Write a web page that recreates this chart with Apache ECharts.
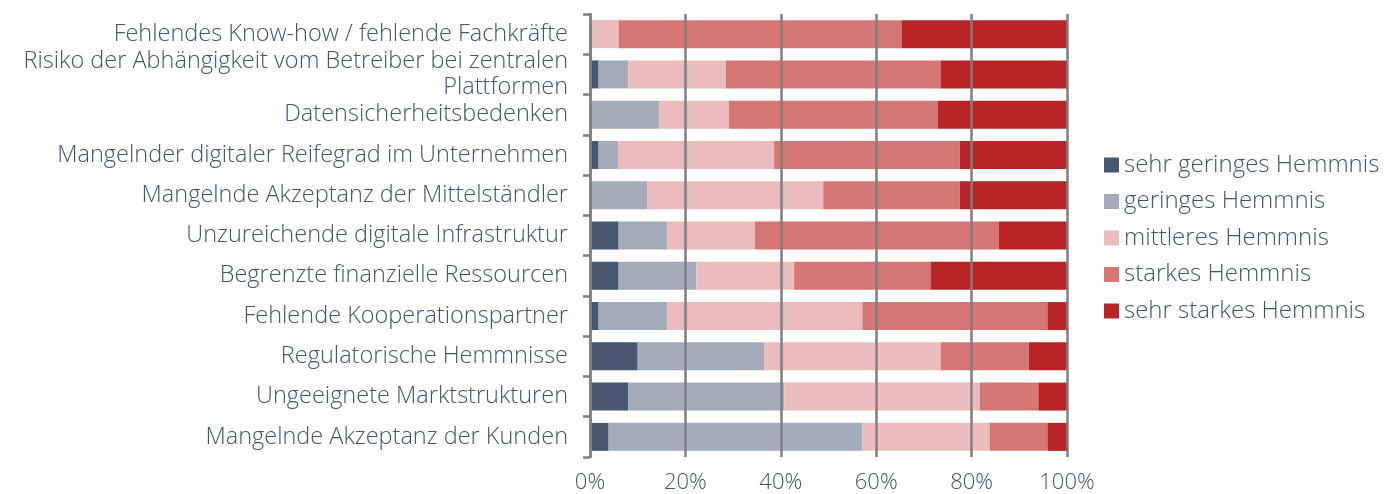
<!DOCTYPE html>
<html>
<head>
<meta charset="utf-8">
<script src="https://cdn.jsdelivr.net/npm/echarts@6/dist/echarts.min.js"></script>
<style>
  html, body { margin: 0; padding: 0; background: #fff; }
  #chart { width: 1399px; height: 494px; }
</style>
</head>
<body>
<div id="chart"></div>
<script>
// categories, top to bottom
const categories = [
    'Fehlendes Know-how / fehlende Fachkräfte',
    'Risiko der Abhängigkeit vom Betreiber bei zentralen\nPlattformen',
    'Datensicherheitsbedenken',
    'Mangelnder digitaler Reifegrad im Unternehmen',
    'Mangelnde Akzeptanz der Mittelständler',
    'Unzureichende digitale Infrastruktur',
    'Begrenzte finanzielle Ressourcen',
    'Fehlende Kooperationspartner',
    'Regulatorische Hemmnisse',
    'Ungeeignete Marktstrukturen',
    'Mangelnde Akzeptanz der Kunden'
]

// shares in percent, one value per category
const sehrGering = [0, 1.8, 0, 1.8, 0, 6.0, 6.0, 1.8, 10.0, 8.0, 3.9]
const gering = [0, 6.2, 14.5, 4.1, 12.0, 10.2, 16.3, 14.4, 26.5, 32.7, 53.2]
const mittel = [6.0, 20.5, 14.6, 32.7, 36.9, 18.4, 20.5, 40.9, 37.0, 41.0, 26.7]
const stark = [59.3, 45.0, 43.8, 38.9, 28.6, 51.1, 28.6, 38.8, 18.5, 12.3, 12.1]
const sehrStark = [34.7, 26.5, 27.1, 22.5, 22.5, 14.3, 28.6, 4.1, 8.0, 6.0, 4.1]

const xTicks = [0, 20, 40, 60, 80, 100]

const seriesNames = [
    'sehr geringes Hemmnis',
    'geringes Hemmnis',
    'mittleres Hemmnis',
    'starkes Hemmnis',
    'sehr starkes Hemmnis'
]
const seriesData = [sehrGering, gering, mittel, stark, sehrStark]
const COLORS = ['#48566f', '#a4abb8', '#eabcbd', '#d37674', '#b92427']

const TEXT = '#44546a'
const FONT = '"Open Sans"'

const chart = echarts.init(document.getElementById('chart'))
chart.setOption({
    animation: false,
    textStyle: { fontFamily: FONT },
    grid: { left: 590, right: 332, top: 14, bottom: 33 },
    legend: {
        orient: 'vertical',
        left: 1099,
        top: 148,
        itemWidth: 15,
        itemHeight: 15,
        itemGap: 12.5,
        icon: 'rect',
        data: seriesNames,
        textStyle: { color: TEXT, fontSize: 24, fontWeight: 300, fontFamily: FONT, padding: [0, 0, 0, 0] }
    },
    xAxis: {
        type: 'value',
        min: 0,
        max: 100,
        interval: 20,
        z: 10,
        axisLine: { show: false },
        axisTick: { show: false },
        splitLine: { show: true, lineStyle: { color: '#7f7f7f', width: 2.5 } },
        axisLabel: {
            color: TEXT,
            fontSize: 22,
            fontWeight: 300,
            margin: 15,
            formatter: v => (xTicks.includes(v) ? v + '%' : '')
        }
    },
    yAxis: {
        type: 'category',
        inverse: true,
        data: categories,
        z: 10,
        axisLine: { show: true, lineStyle: { color: '#7f7f7f', width: 2.5 } },
        axisTick: { show: true, length: 7, lineStyle: { color: '#7f7f7f', width: 2.5 } },
        axisLabel: {
            color: TEXT,
            fontSize: 23.5,
            fontWeight: 300,
            margin: 22,
            lineHeight: 26,
            align: 'right'
        }
    },
    series: seriesData.map((data, i) => ({
        name: seriesNames[i],
        type: 'bar',
        stack: 'total',
        barWidth: 28,
        itemStyle: { color: COLORS[i] },
        data
    }))
})
</script>
</body>
</html>
